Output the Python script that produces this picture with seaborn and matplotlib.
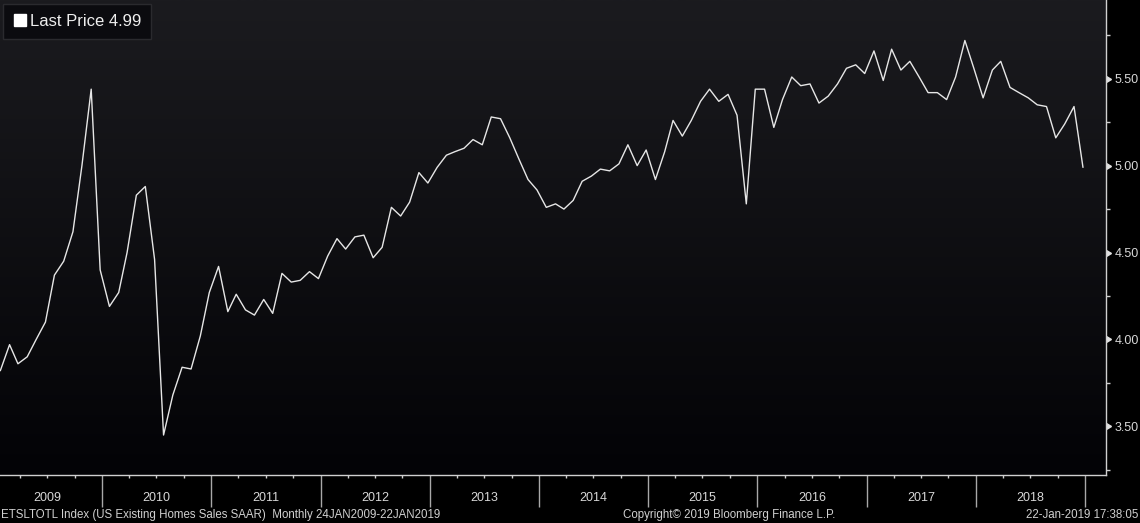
import seaborn as sns
import matplotlib.pyplot as plt
import matplotlib.dates as mdates
import matplotlib.markers as mmarkers
from matplotlib.colors import LinearSegmentedColormap
from matplotlib.lines import Line2D
import pandas as pd
import numpy as np

sns.set_theme(style='dark')
plt.rcParams['font.family'] = ['Liberation Sans', 'DejaVu Sans']

# US existing home sales SAAR (millions), monthly Jan 2009 - Dec 2018
sales = [3.82, 3.97, 3.86, 3.90, 4.00, 4.10, 4.37, 4.45, 4.62, 5.00,
         5.44, 4.40, 4.19, 4.27, 4.50, 4.83, 4.88, 4.46, 3.45, 3.68,
         3.84, 3.83, 4.02, 4.27, 4.42, 4.16, 4.26, 4.17, 4.14, 4.23,
         4.15, 4.38, 4.33, 4.34, 4.39, 4.35, 4.48, 4.58, 4.52, 4.59,
         4.60, 4.47, 4.53, 4.76, 4.71, 4.79, 4.96, 4.90, 4.99, 5.06,
         5.08, 5.10, 5.15, 5.12, 5.28, 5.27, 5.16, 5.04, 4.92, 4.86,
         4.76, 4.78, 4.75, 4.80, 4.91, 4.94, 4.98, 4.97, 5.01, 5.12,
         5.00, 5.09, 4.92, 5.08, 5.26, 5.17, 5.26, 5.37, 5.44, 5.37,
         5.41, 5.29, 4.78, 5.44, 5.44, 5.22, 5.38, 5.51, 5.46, 5.47,
         5.36, 5.40, 5.47, 5.56, 5.58, 5.53, 5.66, 5.49, 5.67, 5.55,
         5.60, 5.51, 5.42, 5.42, 5.38, 5.51, 5.72, 5.56, 5.39, 5.55,
         5.60, 5.45, 5.42, 5.39, 5.35, 5.34, 5.16, 5.24, 5.34, 4.99]
dates = pd.date_range('2009-01-01', periods=len(sales), freq='MS') + pd.Timedelta(days=24)
years = list(range(2009, 2019))
y_major = [3.50, 4.00, 4.50, 5.00, 5.50]
y_minor = [3.25, 3.75, 4.25, 4.75, 5.25, 5.75]

df = pd.DataFrame({'date': dates, 'sales': sales})

fig = plt.figure(figsize=(11.4, 5.23), dpi=100, facecolor='black')
ax = fig.add_axes([0, 48 / 523, 1106 / 1140, 475 / 523])

# dark gradient background of the plot area
grad = LinearSegmentedColormap.from_list('bg', ['#1b1b1f', '#030306'])
ax.imshow(np.linspace(0, 1, 256).reshape(-1, 1), cmap=grad, aspect='auto',
          extent=[0, 1, 0, 1], transform=ax.transAxes, zorder=0)

sns.lineplot(data=df, x='date', y='sales', ax=ax, color='#e6e6e6', lw=1.0, zorder=3)

ax.set_xlim(pd.Timestamp('2009-01-24'), pd.Timestamp('2019-03-12'))
ax.set_ylim(3.22, 5.953)
ax.grid(False)
ax.set_xlabel('')
ax.set_ylabel('')

for s in ['top', 'left']:
    ax.spines[s].set_visible(False)
for s in ['bottom', 'right']:
    ax.spines[s].set_color('#d0d0d0')
    ax.spines[s].set_linewidth(1.0)

# x axis: long separators at year starts, small quarter ticks
ax.xaxis.set_major_locator(mdates.YearLocator())
ax.xaxis.set_minor_locator(mdates.MonthLocator(bymonth=[4, 7, 10]))
ax.xaxis.set_major_formatter(plt.NullFormatter())
ax.tick_params(axis='x', which='major', direction='out', length=23, width=1.0,
               color='#a8a8a8', bottom=True)
ax.tick_params(axis='x', which='minor', direction='out', length=2.5, width=1.0,
               color='#d0d0d0', bottom=True)
for yr in years:
    ax.text(pd.Timestamp(f'{yr}-07-02'), -0.048, str(yr), transform=ax.get_xaxis_transform(),
            ha='center', va='center', fontsize=9, color='#d8d8d8')

# y axis on the right
ax.yaxis.tick_right()
ax.set_yticks(y_major)
ax.set_yticks(y_minor, minor=True)
ax.set_yticklabels([f'{v:.2f}' for v in y_major])
ax.tick_params(axis='y', which='major', right=True, left=False, length=4, width=1.0,
               color='#e0e0e0', labelsize=9, labelcolor='#d8d8d8', pad=2)
ax.tick_params(axis='y', which='minor', right=True, left=False, length=3, width=1.0,
               color='#d0d0d0')
for t in ax.yaxis.get_major_ticks():
    t.tick2line.set_marker(mmarkers.CARETRIGHTBASE)
    t.tick2line.set_markersize(5)

# last price legend box
handle = Line2D([], [], marker='s', color='white', ls='none', ms=8)
leg = ax.legend([handle], ['Last Price 4.99'], loc='upper left',
                bbox_to_anchor=(3 / 1106, 1 - 4 / 475), borderaxespad=0,
                fontsize=12, labelcolor='#eeeeee', facecolor='#0b0b0f',
                edgecolor='#2a2a2e', framealpha=1, fancybox=False,
                handlelength=0.8, handletextpad=0.2, borderpad=0.6)
leg.get_frame().set_linewidth(1.0)

# footer
fig.text(0.001, 0.015, 'ETSLTOTL Index (US Existing Homes Sales SAAR)  Monthly 24JAN2009-22JAN2019',
         ha='left', va='center', fontsize=8.3, color='#d0d0d0')
fig.text(729 / 1140, 0.015, 'Copyright\u00a9 2019 Bloomberg Finance L.P.',
         ha='center', va='center', fontsize=8.3, color='#d0d0d0')
fig.text(0.999, 0.015, '22-Jan-2019 17:38:05',
         ha='right', va='center', fontsize=8.3, color='#d0d0d0')

fig.savefig('out.png', dpi=100, facecolor='black')
